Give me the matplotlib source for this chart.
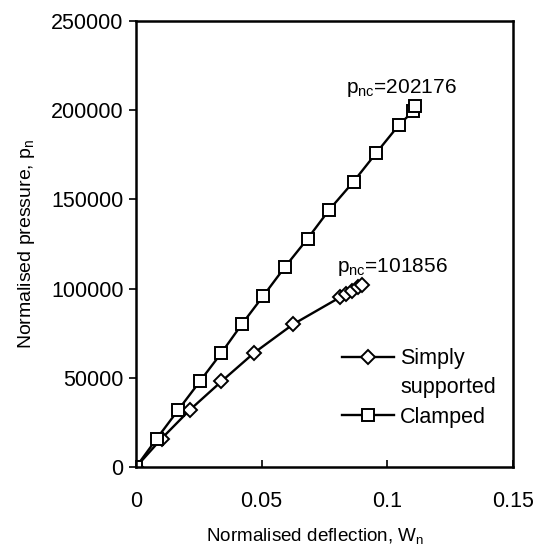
import numpy as np
import matplotlib
matplotlib.use("Agg")
import matplotlib.pyplot as plt
from matplotlib.lines import Line2D

plt.rcParams['font.family'] = ['Liberation Sans', 'DejaVu Sans']
plt.rcParams['mathtext.default'] = 'regular'

# --------------
# data
# --------------
w_simply = [0.0, 0.0102, 0.0214, 0.0340, 0.0470, 0.0625, 0.0814, 0.0837, 0.0861, 0.0884, 0.0900]
p_simply = [0, 16000, 32000, 48000, 64000, 80000, 95300, 97000, 98900, 100900, 101856]

w_clamped = [0.0, 0.0083, 0.0168, 0.0254, 0.0340, 0.0421, 0.0507, 0.0592, 0.0683,
             0.0768, 0.0866, 0.0956, 0.1048, 0.1104, 0.1112]
p_clamped = [0, 16000, 32000, 48000, 64000, 80000, 96000, 112000, 128000,
             144000, 160000, 176000, 192000, 199500, 202176]

xticks = [0, 0.05, 0.1, 0.15]
xtick_labels = ['0', '0.05', '0.1', '0.15']
yticks = [0, 50000, 100000, 150000, 200000, 250000]

fs_tick = 15.5
fs_lab = 13.6

fig = plt.figure(figsize=(5.42, 5.56), dpi=100)
ax = fig.add_axes([0.251, 0.160, 0.695, 0.802])

l1, = ax.plot(w_simply, p_simply, 'k-', lw=1.7, marker='D', ms=7, mfc='white',
              mec='black', mew=1.4)
l2, = ax.plot(w_clamped, p_clamped, 'k-', lw=1.7, marker='s', ms=8, mfc='white',
              mec='black', mew=1.4)

ax.text(0.0838, 209800, r'p$_{nc}$=202176', fontsize=15, va='baseline')
ax.text(0.0800, 109300, r'p$_{nc}$=101856', fontsize=15, va='baseline')

ax.set_xlim(0, 0.15)
ax.set_ylim(0, 250000)
ax.set_xticks(xticks)
ax.set_xticklabels(xtick_labels)
ax.set_yticks(yticks)
ax.tick_params(axis='x', direction='in', length=5, width=1.2, labelsize=fs_tick, pad=17)
ax.tick_params(axis='y', direction='out', length=5, width=1.2, labelsize=fs_tick, pad=4)
for s in ax.spines.values():
    s.set_linewidth(1.8)

ax.set_xlabel(r'Normalised deflection, W$_n$', fontsize=fs_lab)
ax.xaxis.set_label_coords(0.475, -0.133)
ax.set_ylabel(r'Normalised pressure, p$_n$', fontsize=fs_lab + 0.4, labelpad=10)

# "supported" sits on its own row with no symbol, like the original
blank = Line2D([], [], linestyle='none')
ax.legend([l1, blank, l2], ['Simply', 'supported', 'Clamped'],
          loc='upper left', bbox_to_anchor=(0.495, 0.31), frameon=False,
          fontsize=fs_tick, handlelength=2.4, handletextpad=0.3, labelspacing=0.38)

fig.savefig('out.png', dpi=100)
